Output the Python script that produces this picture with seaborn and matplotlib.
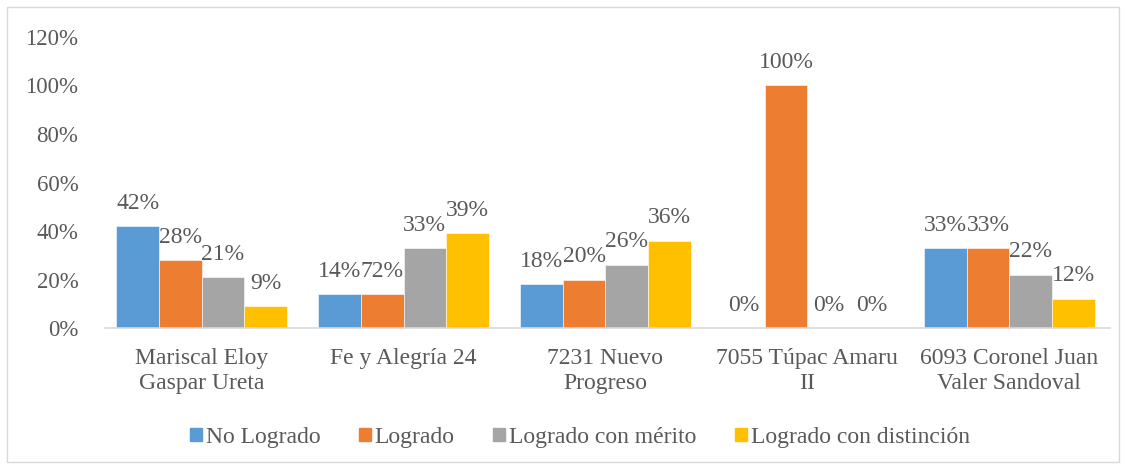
import seaborn as sns
import matplotlib.pyplot as plt
import matplotlib.patches as mpatches
import pandas as pd

# datos
escuelas = ['Mariscal Eloy\nGaspar Ureta', 'Fe y Alegría 24', '7231 Nuevo\nProgreso',
            '7055 Túpac Amaru\nII', '6093 Coronel Juan\nValer Sandoval']
niveles = ['No Logrado', 'Logrado', 'Logrado con mérito', 'Logrado con distinción']
no_logrado = [0.42, 0.14, 0.18, 0.0, 0.33]
logrado = [0.28, 0.14, 0.20, 1.00, 0.33]
merito = [0.21, 0.33, 0.26, 0.0, 0.22]
distincion = [0.09, 0.39, 0.36, 0.0, 0.12]
# etiquetas tal como aparecen en el grafico original
etiquetas = [
    ['42%', '14%', '18%', '0%', '33%'],
    ['28%', '72%', '20%', '100%', '33%'],
    ['21%', '33%', '26%', '0%', '22%'],
    ['9%', '39%', '36%', '0%', '12%'],
]
colores = ['#5B9BD5', '#ED7D31', '#A5A5A5', '#FFC000']
gris = '#595959'

df = pd.DataFrame({
    'escuela': escuelas * 4,
    'nivel': [n for n in niveles for _ in escuelas],
    'valor': no_logrado + logrado + merito + distincion,
})

sns.set_style('white')
plt.rcParams['font.family'] = ['Liberation Serif', 'DejaVu Serif']

fig = plt.figure(figsize=(11.26, 4.68), dpi=100)
ax = fig.add_axes([0.093, 0.299, 0.893, 0.622])

sns.barplot(data=df, x='escuela', y='valor', hue='nivel', palette=colores,
            width=0.845, gap=0, saturation=1, errorbar=None, ax=ax,
            edgecolor='white', linewidth=0.4)

for cont, labs in zip(ax.containers, etiquetas):
    ax.bar_label(cont, labels=labs, padding=9, fontsize=17, color=gris)

ax.set_ylim(0, 1.2)
ax.set_xlim(-0.48, 4.5)
ax.set_yticks([0, 0.2, 0.4, 0.6, 0.8, 1.0, 1.2])
ax.set_yticklabels(['0%', '20%', '40%', '60%', '80%', '100%', '120%'])
ax.tick_params(axis='y', labelsize=16.5, colors=gris, length=0, pad=19)
ax.tick_params(axis='x', labelsize=17, colors=gris, length=0, pad=14)
for t in ax.get_xticklabels():
    t.set_linespacing(1.3)
ax.set_xlabel('')
ax.set_ylabel('')
for s in ['top', 'right', 'left']:
    ax.spines[s].set_visible(False)
ax.spines['bottom'].set_color('#D9D9D9')
ax.spines['bottom'].set_linewidth(1.2)

ax.legend_.remove()
handles = [mpatches.Patch(color=c, label=n) for c, n in zip(colores, niveles)]
fig.legend(handles=handles, loc='center', bbox_to_anchor=(0.515, 0.066), ncol=4,
           frameon=False, fontsize=17, labelcolor=gris, handlelength=0.5,
           handleheight=0.5, handletextpad=0.15, columnspacing=1.65)

fig.patches.append(mpatches.Rectangle((0.006, 0.013), 0.988, 0.972, transform=fig.transFigure,
                                      fill=False, edgecolor='#D9D9D9', linewidth=1))

fig.savefig('out.png', dpi=100)
